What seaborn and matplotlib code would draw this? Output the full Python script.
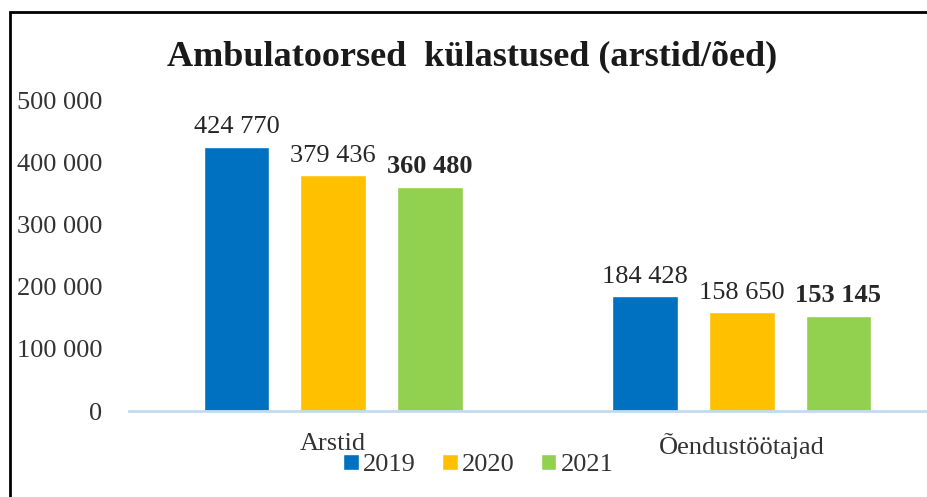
import matplotlib
matplotlib.use("Agg")
import matplotlib.pyplot as plt
from matplotlib.patches import Rectangle
from matplotlib.ticker import FuncFormatter
import seaborn as sns
import pandas as pd

categories = ["Arstid", "Õendustöötajad"]
years = ["2019", "2020", "2021"]
v2019 = [424770, 184428]
v2020 = [379436, 158650]
v2021 = [360480, 153145]
colors = ["#0070C0", "#FFC000", "#92D050"]

rows = []
for yr, vals in zip(years, [v2019, v2020, v2021]):
    for c, v in zip(categories, vals):
        rows.append({"cat": c, "year": yr, "value": v})
df = pd.DataFrame(rows)

sns.set_style("white")
plt.rcParams["font.family"] = ["Liberation Serif", "DejaVu Serif"]

fmt = lambda v: f"{int(round(v)):,}".replace(",", " ")

fig = plt.figure(figsize=(9.27, 4.97), dpi=100)
ax = fig.add_axes([129 / 927, 86 / 497, 817 / 927, 311 / 497])

sns.barplot(data=df, x="cat", y="value", hue="year", palette=colors,
            width=0.71, gap=0.32, ax=ax, saturation=1, errorbar=None)

ax.set_xlim(-0.5, 1.5)
ax.set_ylim(0, 500000)
ax.set_yticks(range(0, 500001, 100000))
ax.yaxis.set_major_formatter(FuncFormatter(lambda v, p: fmt(v)))
ax.tick_params(axis="y", length=0, labelsize=19, labelcolor="#333333", pad=19)
ax.tick_params(axis="x", length=0, labelsize=19, labelcolor="#333333", pad=16)
ax.set_xlabel("")
ax.set_ylabel("")
for s in ["top", "right", "left"]:
    ax.spines[s].set_visible(False)
ax.spines["bottom"].set_color("#C5DAEE")
ax.spines["bottom"].set_linewidth(2)

for i, cont in enumerate(ax.containers):
    texts = ax.bar_label(cont, labels=[fmt(b.get_height()) for b in cont],
                         padding=6, fontsize=19, color="#262626")
    if i == 2:
        for t in texts:
            t.set_fontweight("bold")

handles, labels = ax.get_legend_handles_labels()
ax.get_legend().remove()
fig.legend(handles, labels, loc="center", bbox_to_anchor=(478 / 927, 1 - 465 / 497),
           ncol=3, frameon=False, fontsize=19, handlelength=0.6, handleheight=0.6,
           handletextpad=0.15, columnspacing=1.0, labelcolor="#333333")

fig.text(472 / 927, 1 - 57 / 497, "Ambulatoorsed  külastused (arstid/õed)",
         ha="center", va="center", fontsize=26, fontweight="bold", color="#1a1a1a")

fig.patches.append(Rectangle((10 / 927, -0.1), 1.2, 1.1 - 12 / 497, transform=fig.transFigure,
                             fill=False, edgecolor="black", linewidth=2))

fig.savefig("out.png", dpi=100)
